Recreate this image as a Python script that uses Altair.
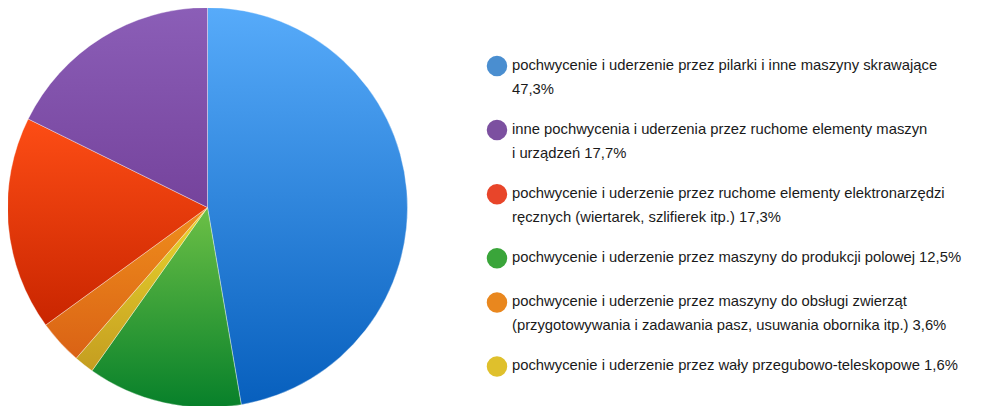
import altair as alt
import pandas as pd
import math

# pie slices in drawing order (clockwise from 12 o'clock)
slice_keys = ["pilarki", "polowe", "waly", "zwierzeta", "elektro", "inne"]
slice_values = [47.3, 12.5, 1.6, 3.6, 17.3, 17.7]
slice_top = ["#57abfa", "#6cc046", "#ead62e", "#ef8e1c", "#fd4d15", "#8b5eb7"]
slice_bottom = ["#075fbd", "#07802a", "#c49d20", "#da6215", "#c92500", "#75439c"]

# legend in display order
legend_keys = ["pilarki", "inne", "elektro", "polowe", "zwierzeta", "waly"]
legend_colors = ["#4a8ed0", "#7c50a0", "#e8452a", "#3aa53a", "#e9871e", "#dfc02c"]
legend_lines = [
    ["pochwycenie i uderzenie przez pilarki i inne maszyny skrawające", "47,3%"],
    ["inne pochwycenia i uderzenia przez ruchome elementy maszyn", "i urządzeń 17,7%"],
    ["pochwycenie i uderzenie przez ruchome elementy elektronarzędzi", "ręcznych (wiertarek, szlifierek itp.) 17,3%"],
    ["pochwycenie i uderzenie przez maszyny do produkcji polowej 12,5%"],
    ["pochwycenie i uderzenie przez maszyny do obsługi zwierząt", "(przygotowywania i zadawania pasz, usuwania obornika itp.) 3,6%"],
    ["pochwycenie i uderzenie przez wały przegubowo-teleskopowe 1,6%"],
]

pie_df = pd.DataFrame({"key": slice_keys, "value": slice_values, "order": list(range(len(slice_keys)))})

R = 200
CX = 199.5
CY = 199.5

theta_scale = alt.Scale(domain=[0, 100], range=[0, 2 * math.pi])

layers = []
for k, top, bot in zip(slice_keys, slice_top, slice_bottom):
    grad = alt.LinearGradient(
        gradient="linear", x1=0, x2=0, y1=0, y2=1,
        stops=[alt.GradientStop(color=top, offset=0), alt.GradientStop(color=bot, offset=1)],
    )
    layer = (
        alt.Chart(pie_df)
        .transform_window(end="sum(value)", sort=[alt.SortField("order")], frame=[None, 0])
        .transform_calculate(start="datum.end - datum.value")
        .transform_filter(alt.datum.key == k)
        .mark_arc(radius=R, color=grad, stroke="#ffffff", strokeWidth=0.6, strokeOpacity=0.6)
        .encode(
            theta=alt.Theta("start:Q", scale=theta_scale),
            theta2="end:Q",
            x=alt.value(CX),
            y=alt.value(CY),
        )
    )
    layers.append(layer)

# legend table: position in "line units" (line height 24 px, gap between items ~1.67 lines)
rows = []
pos = 0.0
for i, (k, lines, col) in enumerate(zip(legend_keys, legend_lines, legend_colors)):
    for j, t in enumerate(lines):
        rows.append({"key": k, "text": t, "pos": pos + j, "first": j == 0, "color": col})
    pos += len(lines) + 0.67 + (0.17 if len(lines) == 1 else 0)
leg_df = pd.DataFrame(rows)

y_scale = alt.Scale(domain=[0, 16], range=[58, 58 + 16 * 24])
x_scale = alt.Scale(domain=[0, 1], range=[0, 966])

dots = (
    alt.Chart(leg_df)
    .transform_filter(alt.datum.first)
    .transform_calculate(xd="0.5062")
    .mark_point(filled=True, shape="circle", size=420, opacity=1)
    .encode(
        x=alt.X("xd:Q", scale=x_scale, axis=None),
        y=alt.Y("pos:Q", scale=y_scale, axis=None),
        color=alt.Color("color:N", scale=None),
    )
)

texts = (
    alt.Chart(leg_df)
    .transform_calculate(xt="0.5062")
    .mark_text(align="left", baseline="middle", font="Liberation Sans", fontSize=14.8, color="#1a1a1a", dx=15)
    .encode(
        x=alt.X("xt:Q", scale=x_scale, axis=None),
        y=alt.Y("pos:Q", scale=y_scale, axis=None),
        text="text:N",
    )
)

chart = (
    alt.layer(*layers, dots, texts)
    .resolve_scale(color="independent")
    .properties(width=966, height=398, padding=0, autosize=alt.AutoSizeParams(type="none"))
    .configure_view(stroke=None)
)

chart.save("out.html", embed_options={"renderer": "svg", "actions": False})
